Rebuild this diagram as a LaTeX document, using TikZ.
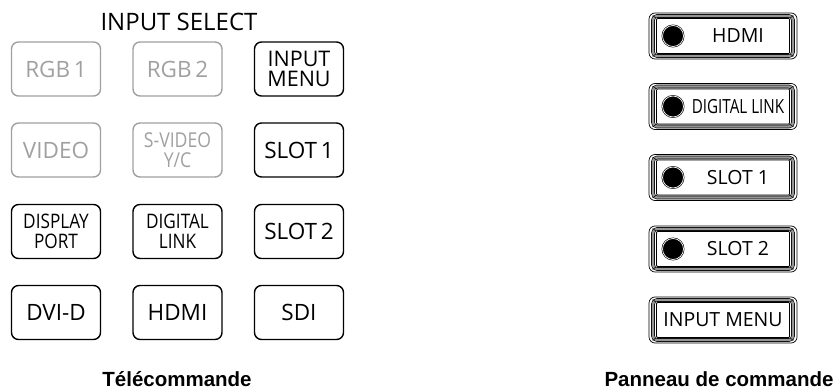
\documentclass[tikz,border=0pt]{standalone}
\usepackage{fontspec}
\newfontfamily\keyfont{Open Sans}
\newfontfamily\narrowfont[FakeStretch=0.86]{Open Sans}
\newfontfamily\slimfont[FakeStretch=0.78]{Open Sans}
\newfontfamily\capfont{Liberation Sans}
\definecolor{keygray}{RGB}{160,160,160}
\definecolor{bandgray}{RGB}{150,150,150}

\tikzset{
  key/.style={draw, line width=1.4, rounded corners=7, minimum width=89, minimum height=54,
    inner sep=0, align=center, font=\keyfont\fontsize{22.5}{24}\selectfont},
  offkey/.style={key, draw=keygray, text=keygray},
  twoline/.style={font=\narrowfont\fontsize{20}{19.5}\selectfont},
  panelkey/.style={draw, line width=.7, rounded corners=6, minimum width=148, minimum height=46, fill=white},
  panelband/.style={draw, line width=.6, double=bandgray, double distance=2.4, rounded corners=4,
    minimum width=140, minimum height=40},
  panelface/.style={draw, line width=.7, rounded corners=1, minimum width=133, minimum height=35, fill=white},
  led/.style={circle, draw, line width=.6, double=white, double distance=.7, fill=black, minimum size=21, inner sep=0},
  paneltext/.style={inner sep=0, font=\keyfont\fontsize{19.5}{20}\selectfont},
  caption/.style={font=\capfont\bfseries\fontsize{20.5}{22}\selectfont}
}

\begin{document}
\begin{tikzpicture}[x=1pt, y=-1pt]
  \useasboundingbox (0,0) rectangle (840,390);

  % Remote control keys
  \node[font=\keyfont\fontsize{24}{26}\selectfont] (title) at (179,22) {INPUT SELECT};

  \node[offkey] (rgb1) at (56,69) {RGB\,1};
  \node[offkey] (rgb2) at (177.5,69) {RGB\,2};
  \node[key, font=\keyfont\fontsize{21.5}{20}\selectfont] (inmenu) at (299,69) {INPUT\\MENU};

  \node[offkey] (video) at (56,150) {VIDEO};
  \node[offkey, font=\narrowfont\fontsize{20.5}{19.5}\selectfont] (svideo) at (177.5,150) {S-VIDEO\\Y/C};
  \node[key] (slot1) at (299,150) {SLOT\,1};

  \node[key, twoline] (dport) at (56,231.5) {DISPLAY\\PORT};
  \node[key, twoline] (dlink) at (177.5,231.5) {DIGITAL\\LINK};
  \node[key] (slot2) at (299,231.5) {SLOT\,2};

  \node[key] (dvid) at (56,312.5) {DVI-D};
  \node[key] (hdmi) at (177.5,312.5) {HDMI};
  \node[key] (sdi) at (299,312.5) {SDI};

  \node[caption] (remote) at (177,379) {Télécommande};

  % Control panel keys
  \foreach \n/\y in {phdmi/36, pdlink/106.5, pslot1/177.5, pslot2/249, pmenu/320} {
    \node[panelkey] (\n) at (723,\y) {};
    \node[panelband] (\n b) at (\n) {};
    \node[panelface] (\n f) at (\n) {};
    \foreach \a in {north west, north east, south west, south east}
      \draw[line width=.6] (\n b.\a) -- (\n f.\a);
  }
  \foreach \n/\t in {phdmi/HDMI, pdlink/{\slimfont DIGITAL LINK}, pslot1/SLOT 1, pslot2/SLOT 2} {
    \node[led] (\n led) at ([xshift=-50]\n.center) {};
    \node[paneltext] (\n txt) at ([xshift=15]\n.center) {\t};
  }
  \node[paneltext] (pmenutxt) at (pmenu) {INPUT MENU};

  \node[caption] (panel) at (719,379) {Panneau de commande};
\end{tikzpicture}
\end{document}
